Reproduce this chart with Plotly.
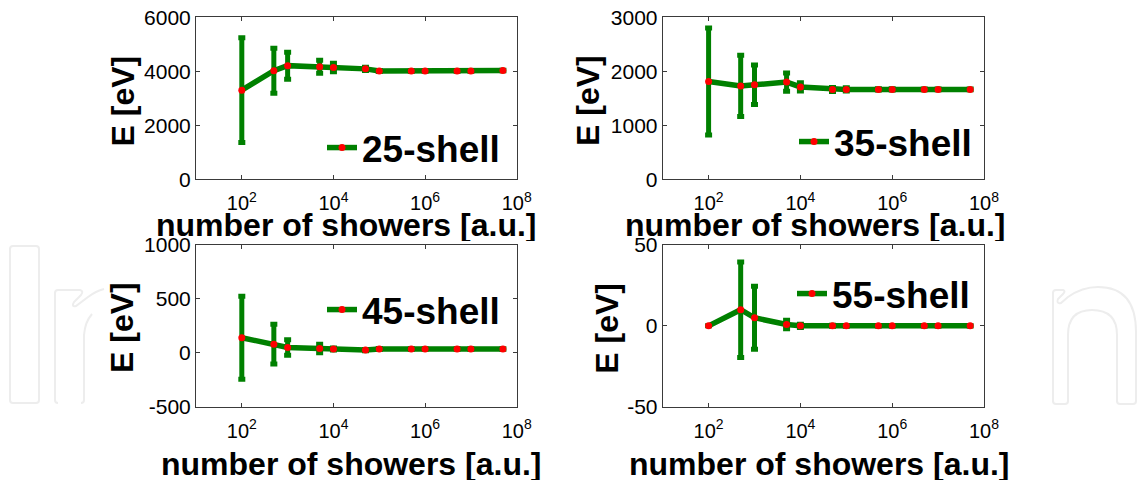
import plotly.graph_objects as go

W, H = 1140, 481

# number of simulated showers (shared x values)
showers = [1e2, 5e2, 1e3, 5e3, 1e4, 5e4, 1e5, 5e5, 1e6, 5e6, 1e7, 5e7]

# mean energy and spread per shell size
e25 = [3300, 4020, 4210, 4170, 4140, 4090, 4010, 4010, 4010, 4010, 4010, 4030]
err25 = [1940, 833, 500, 240, 155, 60, 20, 10, 8, 6, 5, 5]

e35 = [1810, 1730, 1750, 1800, 1710, 1665, 1665, 1665, 1665, 1665, 1665, 1665]
err35 = [990, 568, 367, 170, 77, 37, 30, 12, 10, 8, 6, 5]

e45 = [140, 80, 50, 40, 35, 25, 35, 35, 35, 35, 35, 35]
err45 = [385, 185, 72, 40, 10, 5, 4, 3, 3, 2, 2, 2]

e55 = [0, 10, 5, 0.8, 0, 0, 0, 0, 0, 0, 0, 0]
err55 = [0, 29.5, 19.5, 2.6, 1.0, 0.3, 0.2, 0.1, 0.1, 0.1, 0.1, 0.1]

shell_names = ["25-shell", "35-shell", "45-shell", "55-shell"]
y_ticks = [[0, 2000, 4000, 6000], [0, 1000, 2000, 3000], [-500, 0, 500, 1000], [-50, 0, 50]]
y_ticktext = [["0", "2000", "4000", "6000"], ["0", "1000", "2000", "3000"],
              ["-500", "0", "500", "1000"], ["-50", "0", "50"]]
y_ranges = [[0, 6000], [0, 3000], [-500, 1000], [-50, 50]]
x_tickvals = [1e2, 1e4, 1e6, 1e8]
x_ticktext = ["10<sup>2</sup>", "10<sup>4</sup>", "10<sup>6</sup>", "10<sup>8</sup>"]

series = [(e25, err25), (e35, err35), (e45, err45), (e55, err55)]

GREEN = "#008000"
RED = "#ff0000"
FRAME = "#3a3a3a"
FONT = "Liberation Sans, Arial, Helvetica, sans-serif"


def px_x(x):
    return x / W


def px_y(y):
    return 1 - y / H


# panel boxes in pixels: left, right, top, bottom
panels = [
    (196, 516.7, 17.3, 179.3),
    (662.7, 984, 17.3, 179.3),
    (196, 516.7, 245, 406.7),
    (662.7, 984, 245, 406.7),
]

fig = go.Figure()
layout = dict(
    width=W, height=H,
    margin=dict(l=0, r=0, t=0, b=0),
    paper_bgcolor="white", plot_bgcolor="white",
    showlegend=True,
    font=dict(family=FONT, color="black"),
)

# legend anchor points (pixel x of sample start, pixel y of sample line)
legend_pos = [(322, 148), (794, 142), (322, 310), (792, 294)]

for i, ((vals, errs), name) in enumerate(zip(series, shell_names)):
    k = "" if i == 0 else str(i + 1)
    lg = "legend" if i == 0 else f"legend{i + 1}"
    fig.add_trace(go.Scatter(
        x=showers, y=vals,
        mode="lines+markers",
        name=name,
        xaxis="x" + k, yaxis="y" + k,
        legend=lg,
        line=dict(color=GREEN, width=5.5),
        marker=dict(color=RED, size=7),
        error_y=dict(type="data", array=errs, visible=True,
                     color=GREEN, thickness=5, width=3.5),
    ))
    l, r, t, b = panels[i]
    layout["xaxis" + k] = dict(
        type="log", range=[1, 8], domain=[px_x(l), px_x(r)],
        anchor="y" + k,
        tickvals=x_tickvals, ticktext=x_ticktext,
        ticks="inside", ticklen=4, tickcolor=FRAME,
        showline=True, linecolor=FRAME, linewidth=1, mirror="ticks",
        showgrid=False, zeroline=False,
        tickfont=dict(size=20, family=FONT, color="black"),
        ticklabelstandoff=6,
        automargin=False,
    )
    layout["yaxis" + k] = dict(
        range=y_ranges[i], domain=[px_y(b), px_y(t)],
        anchor="x" + k,
        tickvals=y_ticks[i], ticktext=y_ticktext[i],
        ticks="inside", ticklen=4, tickcolor=FRAME,
        showline=True, linecolor=FRAME, linewidth=1, mirror="ticks",
        showgrid=False, zeroline=False,
        tickfont=dict(size=21, family=FONT, color="black"),
        automargin=False,
    )
    lx, ly = legend_pos[i]
    layout[lg] = dict(
        x=px_x(lx), y=px_y(ly), xanchor="left", yanchor="middle",
        bgcolor="rgba(0,0,0,0)", borderwidth=0,
        itemwidth=30,
        font=dict(size=37, family=FONT, color="black", weight="bold"),
    )

# axis titles
x_title_pos = [(346, 225), (815, 225), (351, 464), (819, 464)]
y_title_pos = [(122.5, 101), (588, 101), (122, 328), (606.7, 328)]
annotations = []
for (xx, yy) in x_title_pos:
    annotations.append(dict(
        text="number of showers [a.u.]", x=px_x(xx), y=px_y(yy),
        xref="paper", yref="paper", xanchor="center", yanchor="middle",
        height=32, valign="middle",
        showarrow=False, font=dict(size=32, family=FONT, color="black", weight="bold"),
    ))
for (xx, yy) in y_title_pos:
    annotations.append(dict(
        text="E [eV]", x=px_x(xx), y=px_y(yy), textangle=-90,
        xref="paper", yref="paper", xanchor="center", yanchor="middle",
        showarrow=False, font=dict(size=32, family=FONT, color="black", weight="bold"),
    ))
layout["annotations"] = annotations


# faint outlined lettering behind the panels
def path(cmds):
    out = []
    for c in cmds:
        if isinstance(c, str):
            out.append(c)
        else:
            out.append(f"{px_x(c[0]):.5f},{px_y(c[1]):.5f}")
    return " ".join(out)


outline = dict(color="#ededed", width=2)
shapes = [
    dict(type="path", xref="paper", yref="paper", layer="below", line=outline,
         path=path(["M", (13, 403), "Q", (10, 403), (10, 400), "L", (10, 249), "Q", (10, 246), (13, 246),
                    "L", (36, 246), "Q", (39, 246), (39, 249), "L", (39, 400), "Q", (39, 403), (36, 403), "Z"])),
    dict(type="path", xref="paper", yref="paper", layer="below", line=outline,
         path=path(["M", (58, 403), "Q", (55, 403), (55, 400), "L", (55, 293), "Q", (55, 290), (58, 290),
                    "L", (80, 290), "Q", (84, 291), (81, 295), "L", (74, 302), "Q", (71, 307), (76, 306),
                    "L", (88, 297), "Q", (96, 291), (104, 289)])),
    dict(type="path", xref="paper", yref="paper", layer="below", line=outline,
         path=path(["M", (81, 403), "Q", (84, 403), (84, 400), "L", (84, 335), "Q", (85, 322), (92, 314)])),
    dict(type="path", xref="paper", yref="paper", layer="below", line=outline,
         path=path(["M", (1056, 404), "Q", (1053, 404), (1053, 401), "L", (1053, 293), "Q", (1053, 290), (1056, 290),
                    "L", (1063, 290), "Q", (1066, 291), (1063, 294), "L", (1058, 299), "Q", (1056, 304), (1061, 303),
                    "L", (1068, 297), "Q", (1082, 287), (1098, 287), "Q", (1136, 287), (1136, 332),
                    "L", (1136, 401), "Q", (1136, 404), (1133, 404), "L", (1120, 404), "Q", (1117, 404), (1117, 401),
                    "L", (1117, 335), "Q", (1117, 310), (1092, 310), "Q", (1068, 310), (1068, 335),
                    "L", (1068, 401), "Q", (1068, 404), (1065, 404), "Z"])),
]
layout["shapes"] = shapes

fig.update_layout(**layout)
fig.write_html("out.html")
